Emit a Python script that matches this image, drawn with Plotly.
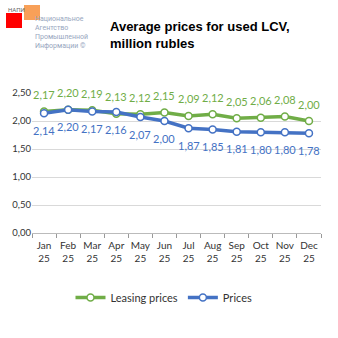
import plotly.graph_objects as go

months = ["Jan<br>25", "Feb<br>25", "Mar<br>25", "Apr<br>25", "May<br>25", "Jun<br>25",
          "Jul<br>25", "Aug<br>25", "Sep<br>25", "Oct<br>25", "Nov<br>25", "Dec<br>25"]
leasing = [2.17, 2.20, 2.19, 2.13, 2.12, 2.15, 2.09, 2.12, 2.05, 2.06, 2.08, 2.00]
prices = [2.14, 2.20, 2.17, 2.16, 2.07, 2.00, 1.87, 1.85, 1.81, 1.80, 1.80, 1.78]
y_ticks = [0, 0.5, 1.0, 1.5, 2.0, 2.5]

GREEN = "#70AD47"
BLUE = "#4472C4"
FONT = "Lato"

L, R, T, B = 32, 17, 93, 105
PW, PH = 338 - L - R, 338 - T - B

fig = go.Figure()
fig.add_trace(go.Scatter(
    x=months, y=leasing, name="Leasing prices", mode="lines+markers",
    line=dict(color=GREEN, width=3.5),
    marker=dict(size=7, color="white", line=dict(color=GREEN, width=1.5))))
fig.add_trace(go.Scatter(
    x=months, y=prices, name="Prices", mode="lines+markers",
    line=dict(color=BLUE, width=3.5),
    marker=dict(size=7, color="white", line=dict(color=BLUE, width=1.5))))

for m, v in zip(months, leasing):
    fig.add_annotation(x=m, y=v, text=f"{v:.2f}".replace(".", ","), showarrow=False,
                       yshift=17, font=dict(color=GREEN, size=11, family=FONT))
for m, v in zip(months, prices):
    fig.add_annotation(x=m, y=v, text=f"{v:.2f}".replace(".", ","), showarrow=False,
                       yshift=-17, font=dict(color=BLUE, size=11, family=FONT))

fig.update_layout(
    width=338, height=338,
    margin=dict(l=L, r=R, t=T, b=B, autoexpand=False),
    paper_bgcolor="white", plot_bgcolor="white",
    separators=", ",
    font=dict(family=FONT, size=10, color="#333333"),
    showlegend=True,
    legend=dict(orientation="h", x=(164 - L) / PW, xanchor="center",
                y=-(296 - (T + PH) - 13) / PH, yanchor="top",
                font=dict(size=11, color="#333333"), tracegroupgap=0),
    title=dict(text="<b>Average prices for used LCV,<br>million rubles</b>",
               x=110/338, xanchor="left", y=1-31/338, yanchor="top",
               font=dict(size=13, color="black", family="Liberation Sans")),
)
fig.update_xaxes(type="category", range=[-0.5, 11.5], tickson="boundaries",
                 ticks="outside", ticklen=4, tickcolor="#999999", showline=True,
                 linecolor="#bbbbbb", showgrid=False, tickangle=0,
                 ticklabelstandoff=3, automargin=False, tickfont=dict(size=10))
fig.update_yaxes(range=[0, 2.5], tickvals=y_ticks, tickformat=".2f",
                 showgrid=True, gridcolor="#d9d9d9", zeroline=False,
                 showline=False, automargin=False, tickfont=dict(size=9.5))

# logo
fig.add_shape(type="rect", xref="paper", yref="paper",
              x0=(6-L)/PW, x1=(22-L)/PW, y0=(T+PH-28)/PH, y1=(T+PH-13)/PH,
              fillcolor="#FF0000", line_width=0, layer="above")
fig.add_shape(type="rect", xref="paper", yref="paper",
              x0=(24-L)/PW, x1=(40-L)/PW, y0=(T+PH-20)/PH, y1=(T+PH-5)/PH,
              fillcolor="#F79646", opacity=0.9, line_width=0, layer="above")
fig.add_annotation(xref="paper", yref="paper", x=(6-L)/PW, y=(T+PH-4)/PH,
                   text="НАПИ", showarrow=False, xanchor="left", yanchor="top",
                   font=dict(size=6, color="#666666", family="Roboto"))
fig.add_annotation(xref="paper", yref="paper", x=(33-L)/PW, y=(T+PH-13)/PH,
                   text="Национальное<br>Агентство<br>Промышленной<br>Информации ©",
                   showarrow=False, xanchor="left", yanchor="top", align="left",
                   font=dict(size=7, color="#97A6BE", family="Roboto"))

fig.write_html("out.html")
